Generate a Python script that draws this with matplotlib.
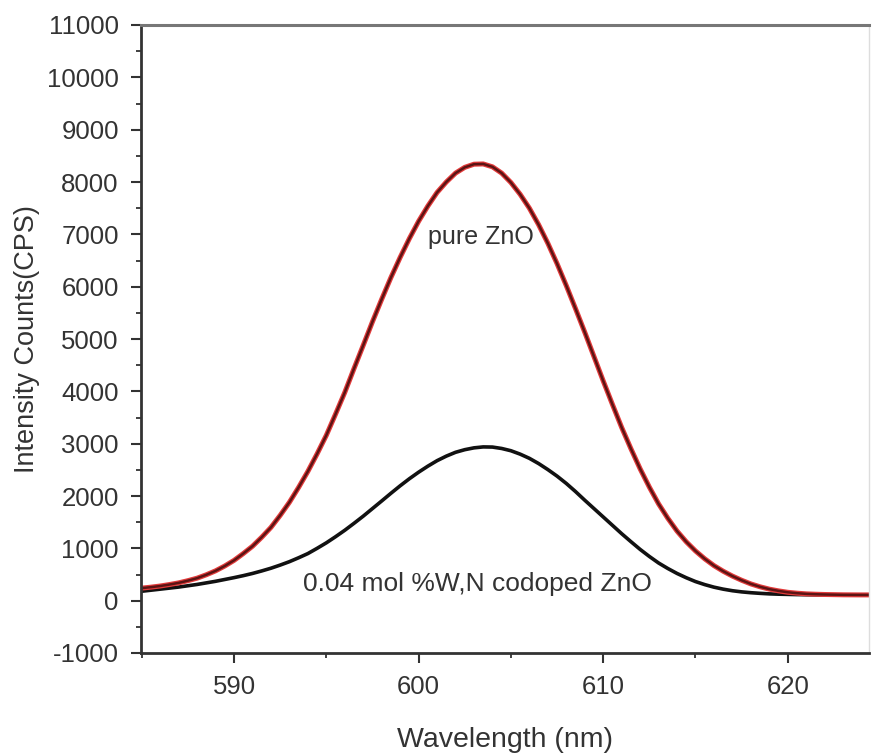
#import libraries
import numpy as np
import matplotlib
matplotlib.use("Agg")
import matplotlib.pyplot as plt
from matplotlib.ticker import MultipleLocator

#data (wavelength in nm, counts in CPS), every 0.5 nm
wavelength = np.arange(585, 625.5, 0.5)
pure_zno = [240, 258, 280, 308, 340, 382, 430, 495, 570, 663,
            770, 900, 1040, 1212, 1400, 1630, 1880, 2165, 2470, 2805,
            3160, 3565, 3980, 4435, 4880, 5330, 5760, 6175, 6560, 6920,
            7250, 7540, 7800, 8000, 8170, 8280, 8340, 8345, 8290, 8170,
            7990, 7765, 7500, 7185, 6830, 6440, 6020, 5580, 5130, 4665,
            4200, 3750, 3310, 2905, 2520, 2170, 1850, 1575, 1330, 1125,
            950, 800, 670, 563, 470, 390, 320, 265, 220, 187,
            160, 143, 130, 123, 118, 115, 112, 111, 110, 110,
            110]
codoped_zno = [180, 200, 220, 240, 260, 285, 310, 340, 370, 405,
               440, 478, 520, 568, 620, 680, 745, 820, 900, 1000,
               1105, 1222, 1345, 1478, 1615, 1760, 1905, 2052, 2195, 2330,
               2455, 2570, 2675, 2762, 2835, 2885, 2920, 2938, 2935, 2908,
               2865, 2800, 2720, 2620, 2505, 2380, 2240, 2085, 1920, 1760,
               1600, 1440, 1280, 1128, 980, 845, 720, 615, 520, 438,
               365, 307, 258, 220, 190, 168, 152, 140, 130, 124,
               120, 116, 113, 111, 110, 109, 108, 107, 106, 105,
               105]

label_pure = "pure ZnO"
label_codoped = "0.04 mol %W,N codoped ZnO"

plt.rcParams['font.family'] = ['Liberation Sans', 'DejaVu Sans']
plt.rcParams['axes.unicode_minus'] = False

#draw the plot
fig = plt.figure(figsize=(8.73, 7.53), dpi=100)
ax = fig.add_axes([141/873, 100/753, 728/873, 628/753])

ax.plot(wavelength, codoped_zno, color="#111111", lw=2.6)
ax.plot(wavelength, pure_zno, color="#e23a3a", lw=3.6)
ax.plot(wavelength, pure_zno, color="#5c1414", lw=1.8)

ax.text(603.4, 6950, label_pure, ha="center", va="center", fontsize=18, color="#333333")
ax.text(603.2, 320, label_codoped, ha="center", va="center", fontsize=19, color="#333333")

ax.set_xlim(584.96, 624.4)
ax.set_ylim(-1000, 11000)
ax.xaxis.set_major_locator(MultipleLocator(10))
ax.xaxis.set_minor_locator(MultipleLocator(5))
ax.yaxis.set_major_locator(MultipleLocator(1000))
ax.yaxis.set_minor_locator(MultipleLocator(500))

ax.tick_params(which="both", direction="out", colors="#333333", labelcolor="#333333",
               top=False, right=False)
ax.tick_params(which="major", length=7, width=1.5, labelsize=18.5)
ax.tick_params(which="minor", length=3.5, width=1.3)
ax.tick_params(axis="y", which="major", pad=9)
ax.tick_params(axis="x", which="major", pad=9)

for side in ["left", "bottom"]:
    ax.spines[side].set_color("#333333")
    ax.spines[side].set_linewidth(2)
ax.spines["top"].set_color("#777777")
ax.spines["top"].set_linewidth(2.2)
ax.spines["right"].set_color("#dddddd")
ax.spines["right"].set_linewidth(1)

ax.set_xlabel("Wavelength (nm)", fontsize=20.5, color="#333333", labelpad=20)
ax.set_ylabel("Intensity Counts(CPS)", fontsize=19.5, color="#333333", labelpad=5)

#save the image
fig.savefig("out.png", dpi=100)
